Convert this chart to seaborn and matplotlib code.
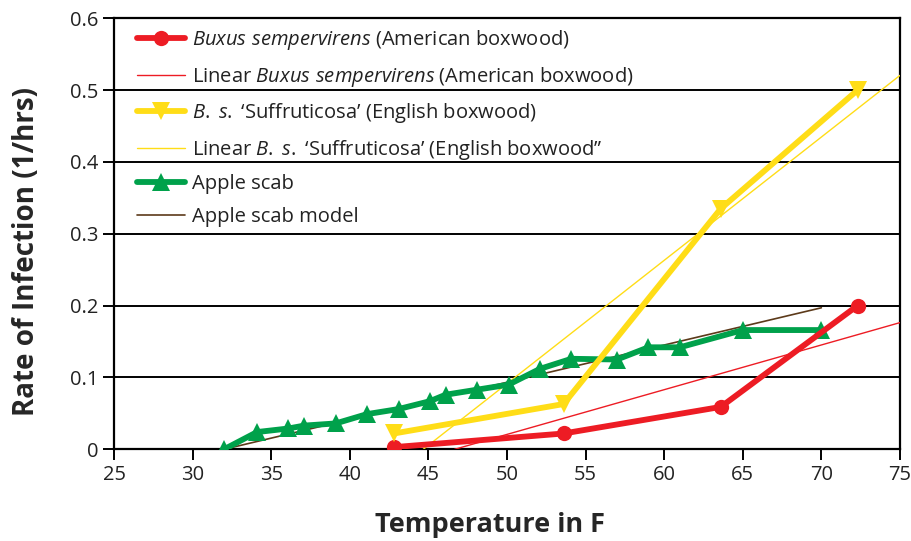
import numpy as np
import pandas as pd
import matplotlib
matplotlib.use("Agg")
import matplotlib.pyplot as plt
import seaborn as sns

# ---- data ----
american_x = [42.8, 53.6, 63.6, 72.3]
american_y = [0.003, 0.022, 0.059, 0.200]
english_x = [42.8, 53.6, 63.6, 72.3]
english_y = [0.022, 0.063, 0.335, 0.500]
scab_x = [32.0, 34.1, 36.1, 37.1, 39.1, 41.1, 43.1, 45.1, 46.1, 48.1, 50.1,
          52.1, 54.1, 57.0, 59.0, 61.0, 65.0, 70.0]
scab_y = [0.000, 0.024, 0.029, 0.033, 0.036, 0.049, 0.056, 0.067, 0.076, 0.083,
          0.090, 0.112, 0.126, 0.125, 0.142, 0.142, 0.166, 0.166]
model_x = [32.0, 70.0]
model_y = [0.000, 0.197]

labels = [
    r"$\it{Buxus\ sempervirens}$ (American boxwood)",
    r"Linear $\it{Buxus\ sempervirens}$ (American boxwood)",
    r"$\it{B.}$ $\it{s.}$ ‘Suffruticosa’ (English boxwood)",
    r"Linear $\it{B.}$ $\it{s.}$ ‘Suffruticosa’ (English boxwood”",
    "Apple scab",
    "Apple scab model",
]
x_ticks = [25, 30, 35, 40, 45, 50, 55, 60, 65, 70, 75]
y_ticks = [0, 0.1, 0.2, 0.3, 0.4, 0.5, 0.6]
y_ticklabels = ["0", "0.1", "0.2", "0.3", "0.4", "0.5", "0.6"]

RED = "#ED1C24"
YELLOW = "#FFDD17"
GREEN = "#00A14B"
BROWN = "#5C3A1A"

sns.set_theme(style="white")
plt.rcParams["font.family"] = ["Open Sans", "DejaVu Sans"]
plt.rcParams["mathtext.fontset"] = "custom"
plt.rcParams["mathtext.rm"] = "Open Sans"
plt.rcParams["mathtext.it"] = "Open Sans:italic"
plt.rcParams["mathtext.bf"] = "Open Sans:bold"

fig = plt.figure(figsize=(9.12, 5.41), dpi=100)
ax = fig.add_axes([0.125, 0.1695, 0.8618, 0.7967])

# gridlines
for yv in y_ticks[1:]:
    ax.axhline(yv, color="black", lw=1.4, zorder=1)

def trend(xs, ys):
    k, b = np.polyfit(xs, ys, 1)
    x0 = max(25.0, -b / k)
    xx = np.array([x0, 75.0])
    return xx, k * xx + b

sns.lineplot(x=american_x, y=american_y, ax=ax, color=RED, lw=4.2,
             marker="o", markersize=11, markeredgewidth=0, sort=False, zorder=5)
tx, ty = trend(american_x, american_y)
h_red, = ax.plot(tx, ty, color=RED, lw=1.0, zorder=3)
sns.lineplot(x=english_x, y=english_y, ax=ax, color=YELLOW, lw=4.2,
             marker="v", markersize=13, markeredgewidth=0, sort=False, zorder=5)
tx, ty = trend(english_x, english_y)
h_yel, = ax.plot(tx, ty, color=YELLOW, lw=1.0, zorder=3)
sns.lineplot(x=scab_x, y=scab_y, ax=ax, color=GREEN, lw=4.2,
             marker="^", markersize=13, markeredgewidth=0, sort=False, zorder=4)
h_brn, = ax.plot(model_x, model_y, color=BROWN, lw=1.2, zorder=3.5)

data_lines = [ln for ln in ax.get_lines() if ln.get_linewidth() > 3]
handles = [data_lines[0], h_red, data_lines[1], h_yel, data_lines[2], h_brn]

leg = ax.legend(handles, labels, loc="upper left", bbox_to_anchor=(0.029, 0.977),
                frameon=False, fontsize=14.5, handlelength=2.4, handletextpad=0.35,
                labelspacing=0.62, borderpad=0, borderaxespad=0)
for t in leg.get_texts():
    t.set_color("#222222")

ax.set_xlim(25, 75)
ax.set_ylim(0, 0.6)
ax.set_xticks(x_ticks)
ax.set_yticks(y_ticks)
ax.set_yticklabels(y_ticklabels)
ax.tick_params(axis="both", which="both", direction="out", length=8, width=1.4,
               color="black", labelsize=14.5, labelcolor="#222222", pad=3,
               bottom=True, left=True)
for s in ax.spines.values():
    s.set_color("black")
    s.set_linewidth(1.6)
    s.set_visible(True)

ax.set_xlabel("Temperature in F", fontsize=19.5, fontweight="bold")
ax.xaxis.label.set_va("baseline")
ax.xaxis.set_label_coords(0.478, -0.193)
ax.set_ylabel("Rate of Infection (1/hrs)", fontsize=20, fontweight="bold")
ax.yaxis.label.set_va("baseline")
ax.yaxis.set_label_coords(-0.1024, 0.46)

fig.savefig("out.png", dpi=100)
